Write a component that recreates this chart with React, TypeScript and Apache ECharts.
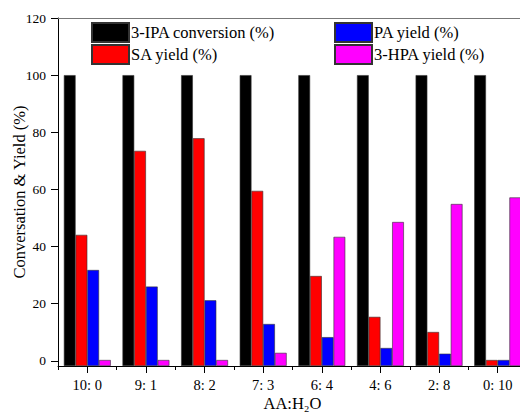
import React, { useEffect, useRef } from "react";
import * as echarts from "echarts";

const CATEGORIES = ["10: 0", "9: 1", "8: 2", "7: 3", "6: 4", "4: 6", "2: 8", "0: 10"];
const IPA_CONVERSION = [100, 100, 100, 100, 100, 100, 100, 100];
const SA_YIELD = [44.1, 73.5, 77.9, 59.5, 29.7, 15.4, 10.1, 0.3];
const PA_YIELD = [31.8, 26.0, 21.2, 12.9, 8.3, 4.5, 2.5, 0.3];
const HPA_YIELD = [0.3, 0.3, 0.3, 2.8, 43.4, 48.6, 54.9, 57.2];
const Y_TICKS = [0, 20, 40, 60, 80, 100, 120];
const Y_MINOR_TICKS = [10, 30, 50, 70, 90, 110];
const Y_BOTTOM = -1.8;
const Y_TOP = 120;

const FONT = "Liberation Serif";

export default function App() {
  const ref = useRef<HTMLDivElement>(null);
  useEffect(() => {
    if (!ref.current) return;
    const chart = echarts.init(ref.current, undefined, { renderer: "svg" });
    const shift = (v: number) => v - Y_BOTTOM;
    const mkSeries = (name: string, data: number[], color: string) => ({
      name,
      type: "bar",
      xAxisIndex: 0,
      yAxisIndex: 0,
      data: data.map(shift),
      barGap: "0%",
      barCategoryGap: "20%",
      itemStyle: { color, borderColor: "#333", borderWidth: 0.6 },
    });
    chart.setOption({
      animation: false,
      backgroundColor: "#fff",
      grid: { left: 58, top: 18, width: 469, height: 348, outerBoundsMode: "none", containLabel: false },
      legend: [
        {
          data: ["3-IPA conversion (%)", "SA yield (%)"],
          orient: "vertical",
          left: 91,
          top: 22,
          itemWidth: 37,
          itemHeight: 19,
          itemGap: 1,
          padding: 0,
          icon: "rect",
          textStyle: { fontFamily: FONT, fontSize: 16.5, color: "#000", padding: [0, 0, 0, -3] },
        },
        {
          data: ["PA yield (%)", "3-HPA yield (%)"],
          orient: "vertical",
          left: 334,
          top: 22,
          itemWidth: 37,
          itemHeight: 19,
          itemGap: 1,
          padding: 0,
          icon: "rect",
          textStyle: { fontFamily: FONT, fontSize: 16.5, color: "#000", padding: [0, 0, 0, -3] },
        },
      ],
      xAxis: [
        {
          type: "category",
          data: CATEGORIES,
          position: "bottom",
          name: "AA:H\u2082O",
          nameLocation: "middle",
          nameGap: 29,
          nameMoveOverlap: false,
          nameTextStyle: { fontFamily: FONT, fontSize: 16.5, color: "#000" },
          axisLine: { lineStyle: { color: "#000", width: 1 } },
          axisTick: { show: true, interval: 0, length: 4, lineStyle: { color: "#000" } },
          axisLabel: { fontFamily: FONT, fontSize: 14.5, color: "#000", margin: 11, interval: 0 },
        },
        {
          type: "category",
          data: CATEGORIES,
          position: "bottom",
          axisLine: { show: false },
          axisTick: { show: true, alignWithLabel: true, interval: 0, length: 7, lineStyle: { color: "#000" } },
          axisLabel: { show: false },
        },
        {
          type: "category",
          data: CATEGORIES,
          position: "top",
          axisLine: { show: true, lineStyle: { color: "#777", width: 1 } },
          axisTick: { show: false },
          axisLabel: { show: false },
        },
      ],
      yAxis: [
        {
          type: "value",
          min: 0,
          max: shift(Y_TOP),
          name: "Conversation & Yield (%)",
          nameLocation: "middle",
          nameGap: 30,
          nameMoveOverlap: false,
          nameTextStyle: { fontFamily: FONT, fontSize: 16.5, color: "#000" },
          splitLine: { show: false },
          axisLine: { show: true, lineStyle: { color: "#000", width: 1 } },
          axisTick: { show: true, length: 7, customValues: Y_TICKS.map(shift), lineStyle: { color: "#000" } },
          axisLabel: {
            fontFamily: FONT,
            fontSize: 13.5,
            color: "#000",
            margin: 12,
            customValues: Y_TICKS.map(shift),
            formatter: (v: number) => String(Math.round(v + Y_BOTTOM)),
          },
        },
        {
          type: "value",
          min: 0,
          max: shift(Y_TOP),
          splitLine: { show: false },
          axisLine: { show: false },
          axisTick: { show: true, length: 4, customValues: Y_MINOR_TICKS.map(shift), lineStyle: { color: "#000" } },
          axisLabel: { show: false },
        },
      ],
      series: [
        mkSeries("3-IPA conversion (%)", IPA_CONVERSION, "#000000"),
        mkSeries("SA yield (%)", SA_YIELD, "#ff0000"),
        mkSeries("PA yield (%)", PA_YIELD, "#0000ff"),
        mkSeries("3-HPA yield (%)", HPA_YIELD, "#ff00ff"),
      ],
    });
    return () => chart.dispose();
  }, []);
  return (
    <div
      ref={ref}
      style={{ position: "fixed", left: 0, top: 0, width: 520, height: 412, background: "#fff" }}
    />
  );
}
